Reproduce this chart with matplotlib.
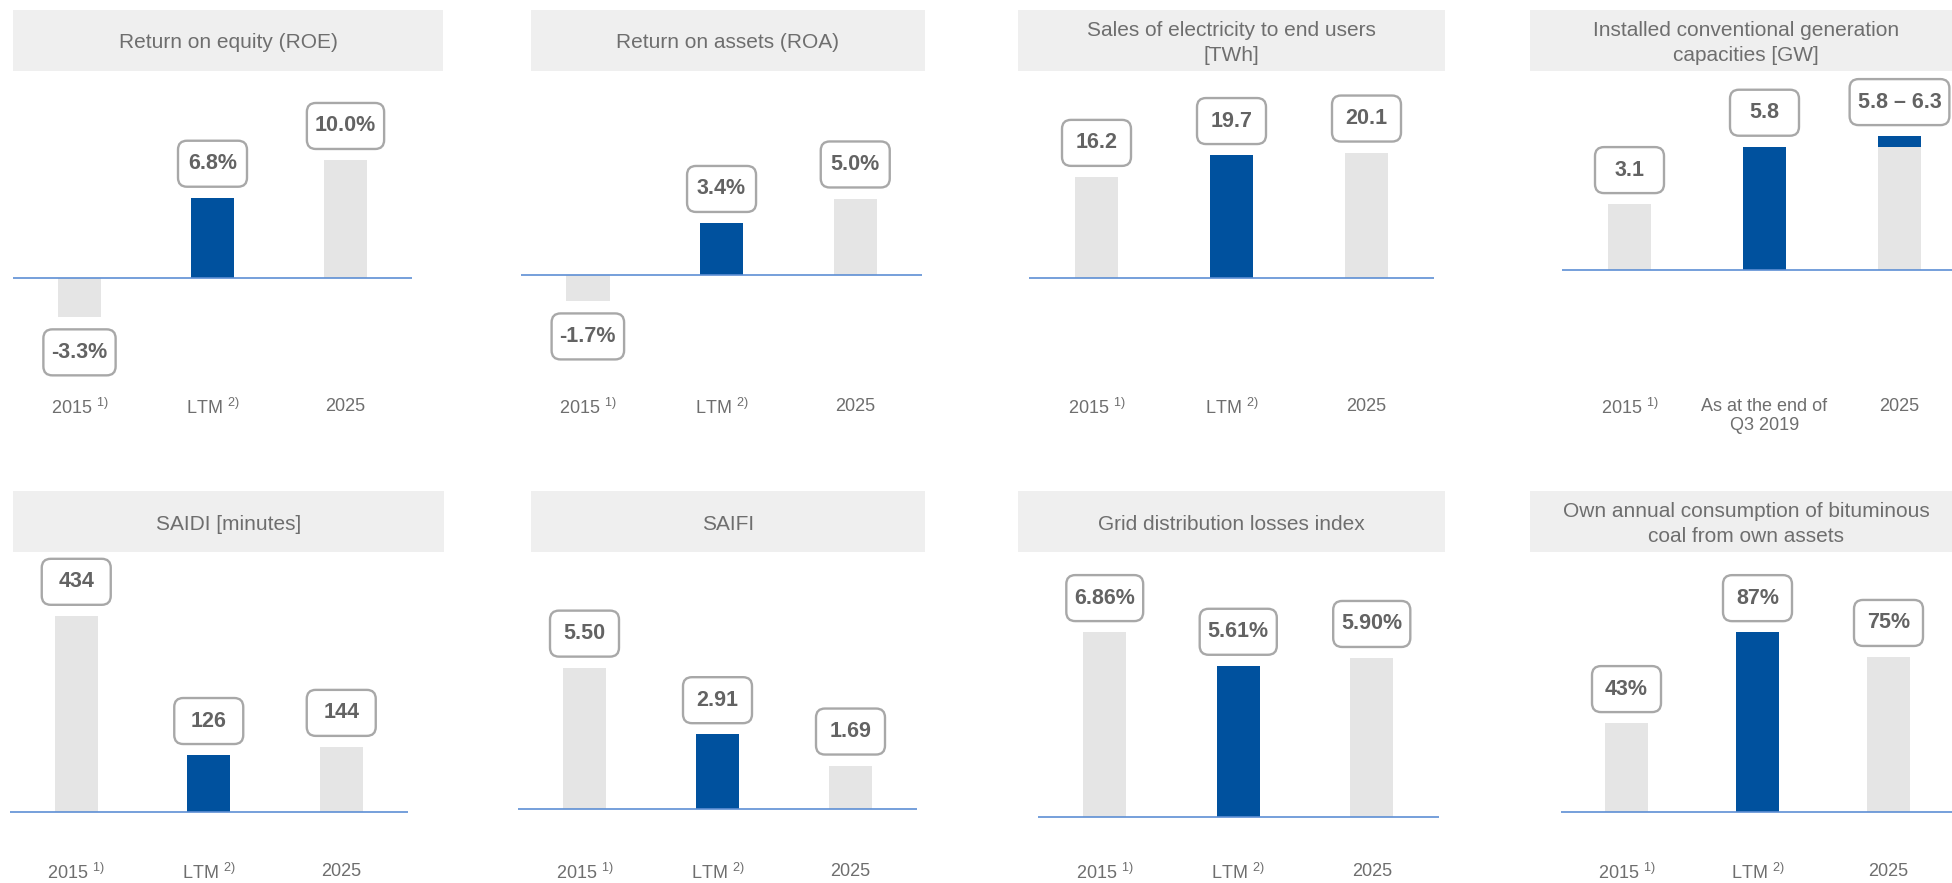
import matplotlib
matplotlib.use("Agg")
import matplotlib.pyplot as plt
from matplotlib.patches import Rectangle, FancyBboxPatch
from matplotlib.transforms import blended_transform_factory, IdentityTransform

plt.rcParams["font.family"] = ["Liberation Sans", "DejaVu Sans"]
plt.rcParams["mathtext.fontset"] = "custom"
plt.rcParams["mathtext.rm"] = "Liberation Sans"
plt.rcParams["mathtext.it"] = "Liberation Sans:italic"
plt.rcParams["mathtext.bf"] = "Liberation Sans:bold"

# data
categories = ["2015 $^{1)}$", "LTM $^{2)}$", "2025"]
capacity_categories = ["2015 $^{1)}$", "As at the end of\nQ3 2019", "2025"]
roe = [-3.3, 6.8, 10.0]
roa = [-1.7, 3.4, 5.0]
sales_twh = [16.2, 19.7, 20.1]
capacity_gw = [3.1, 5.8, 5.8]
capacity_2025_upper = 6.3
saidi = [434, 126, 144]
saifi = [5.50, 2.91, 1.69]
grid_losses = [6.86, 5.61, 5.90]
coal_share = [43, 87, 75]

titles = [
    "Return on equity (ROE)",
    "Return on assets (ROA)",
    "Sales of electricity to end users\n[TWh]",
    "Installed conventional generation\ncapacities [GW]",
    "SAIDI [minutes]",
    "SAIFI",
    "Grid distribution losses index",
    "Own annual consumption of bituminous\ncoal from own assets",
]

GRAY_BAR = "#E5E5E5"
BLUE = "#00519E"
LINE = "#5E8FD4"
TITLE_BG = "#EFEFEF"
TEXT = "#6E6E6E"
LABEL = "#636363"
EDGE = "#A8A8A8"

W, H, DPI = 1952, 883, 100
fig = plt.figure(figsize=(W / DPI, H / DPI), dpi=DPI)
fig.patch.set_facecolor("white")


def fx(px):
    return px / W


def fy(py):
    return 1 - py / H


# layout in pixels: title box, baseline start, bar step, baseline y, px per unit
layout = [
    ((13, 443, 10, 71), 13, 133.0, 278, 11.8),
    ((531, 925, 10, 71), 521, 133.7, 275, 15.3),
    ((1018, 1445, 10, 71), 1029, 135.0, 278, 6.24),
    ((1530, 1962, 10, 71), 1562, 135.0, 270, 21.25),
    ((13, 444, 491, 552), 10, 132.5, 812, 0.452),
    ((531, 925, 491, 552), 518, 133.0, 809, 25.7),
    ((1018, 1445, 491, 552), 1038, 133.5, 817, 26.95),
    ((1530, 1962, 491, 552), 1561, 131.0, 812, 2.067),
]

series = [roe, roa, sales_twh, capacity_gw, saidi, saifi, grid_losses, coal_share]
formats = ["{:.1f}%", "{:.1f}%", "{:.1f}", "{:.1f}", "{:.0f}", "{:.2f}", "{:.2f}%", "{:.0f}%"]

value_texts = []

for k, (values, fmt, title, lay) in enumerate(zip(series, formats, titles, layout)):
    (bx0, bx1, by0, by1), x0, step, base, scale = lay
    top_row = k < 4
    ytop, ybot = (72, 440) if top_row else (553, 883)

    # title box
    fig.patches.append(Rectangle((fx(bx0), fy(by1)), fx(bx1 - bx0), (by1 - by0) / H,
                                 transform=fig.transFigure, facecolor=TITLE_BG,
                                 edgecolor="none", zorder=0))
    fig.text(fx((bx0 + bx1) / 2), fy((by0 + by1) / 2 + 2.5), title, ha="center",
             va="center", fontsize=15, color=TEXT, linespacing=1.4)

    ax = fig.add_axes([fx(x0), fy(ybot), fx(3 * step), (ybot - ytop) / H])
    ax.axis("off")

    colors = [GRAY_BAR, BLUE, GRAY_BAR]
    ax.bar(range(3), values, width=0.325, color=colors, zorder=2)
    ax.axhline(0, color=LINE, lw=1.2, zorder=3)

    labels = [fmt.format(v) for v in values]
    tops = list(values)
    if k == 3:
        ax.bar(2, capacity_2025_upper - values[2], bottom=values[2], width=0.325,
               color=BLUE, zorder=2)
        labels[2] = f"{values[2]:.1f} \u2013 {capacity_2025_upper:.1f}"
        tops[2] = capacity_2025_upper

    ax.set_xlim(-0.5, 2.5)
    ax.set_ylim(-(ybot - base) / scale, (base - ytop) / scale)

    for i, (v, lab) in enumerate(zip(tops, labels)):
        off = 24.5 if v >= 0 else -25.5
        t = ax.annotate(lab, xy=(i, v), xytext=(0, off), textcoords="offset points",
                        ha="center", va="center", fontsize=15.5, fontweight="bold",
                        color=LABEL, annotation_clip=False, zorder=5)
        value_texts.append((ax, t))

    cats = capacity_categories if k == 3 else categories
    trans = blended_transform_factory(ax.transData, fig.transFigure)
    tick_y = 398 if top_row else 863
    for i, c in enumerate(cats):
        ax.text(i, fy(tick_y), c, transform=trans, ha="center", va="top",
                fontsize=13, color=TEXT, linespacing=1.15, clip_on=False)

# rounded label boxes sized around the drawn text
fig.canvas.draw()
renderer = fig.canvas.get_renderer()
for ax, t in value_texts:
    bb = t.get_window_extent(renderer)
    bw = max(69, bb.width + 16)
    bh = 46
    cx, cy = (bb.x0 + bb.x1) / 2, (bb.y0 + bb.y1) / 2
    box = FancyBboxPatch((cx - bw / 2, cy - bh / 2), bw, bh,
                         boxstyle="round,pad=0,rounding_size=9",
                         facecolor="white", edgecolor=EDGE, linewidth=1.7,
                         transform=IdentityTransform(), zorder=4, clip_on=False)
    ax.add_artist(box)

fig.savefig("out.png", dpi=DPI, facecolor="white")
